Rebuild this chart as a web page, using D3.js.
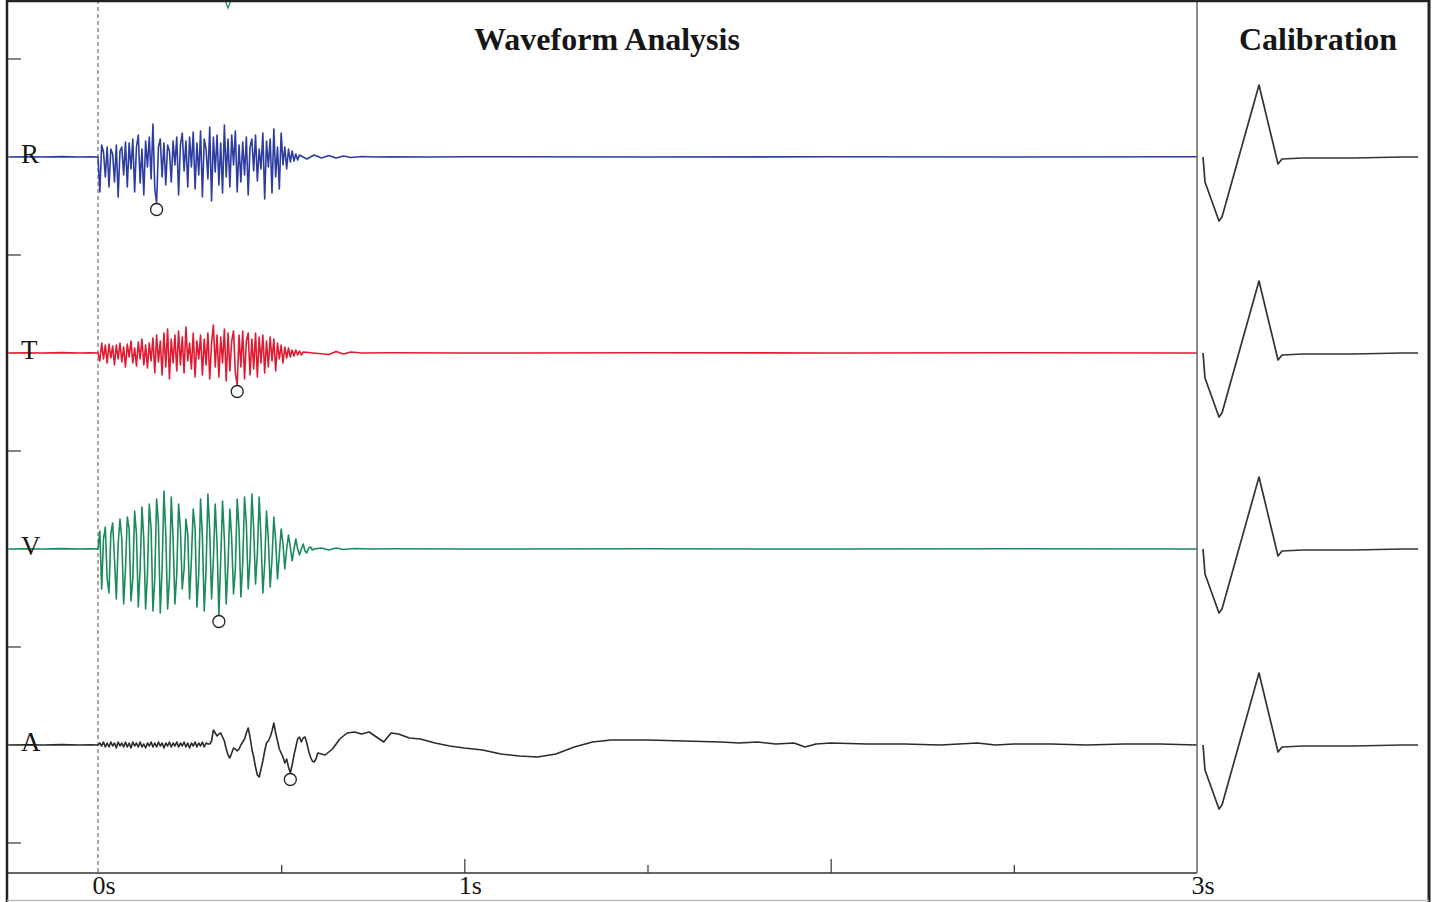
<!DOCTYPE html>
<html>
<head>
<meta charset="utf-8">
<script src="https://cdn.jsdelivr.net/npm/d3@7"></script>
<style>
  html, body { margin: 0; padding: 0; background: #fff; overflow: hidden; }
  text { font-family: "Liberation Serif", "DejaVu Serif", serif; fill: #161616; }
</style>
</head>
<body>
<svg id="chart" width="1433" height="902"></svg>
<script>
// ---- channels ----
const channels = ["R", "T", "V", "A"];
const channelColors = ["#2c3c9f", "#e11a31", "#1b8a5c", "#2b2b2b"];

// ---- event bursts, one sample every 5 ms from t = 0 s ----
const sampleStep = 0.005;
const rBurst = [0,-35,12,5,-20,10,-30,8,3,-25, 12,-40,6,10,-18,15,-30,14,-12,18,
  -35,10,22,-26,8,-38,16,-10,20,-22, 33,-32,-46,10,18,-20,14,-28,12,6,
  -25,16,-8,20,-38,12,24,-14,16,-30, 20,-10,25,-32,14,-18,26,-40,18,8,
  -22,30,-44,20,-15,22,-28,14,-36,32, -20,18,-30,22,-8,26,-35,12,-25,15,
  -18,20,-38,10,18,-14,22,-24,8,-12, 24,-42,16,-10,18,-36,28,-20,10,-32,
  24,-8,10,-12,8,-5,6,-4,3,-3, 2];
const tBurst = [0,-8,10,-6,8,-10,9,-5,7,-12, 8,-6,10,-9,6,-14,9,-4,12,-10,
  5,-13,11,-6,14,-12,8,-15,10,-8, 15,-20,18,-9,12,-22,20,-14,24,-26,
  14,-10,18,-18,22,-12,16,-20,26,-8, 10,-16,20,-24,12,-6,18,-22,14,-12,
  20,-26,10,28,-14,18,-24,16,-10,24, -28,20,-18,12,22,-20,-32,18,-14,22,
  -26,12,20,-22,14,-16,20,-24,16,-10, 18,-20,12,-14,16,-8,14,-18,10,-6,
  8,-10,6,-5,5,-4,3,-3,3,-2, 2,-2,1];
const vBurst = [0,18,-40,10,22,-30,-44,15,26,-10, -50,5,30,10,-55,-20,32,20,-52,-30,
  38,15,-58,-20,42,10,-60,-25,45,20, -62,-30,50,25,-64,-20,58,15,-60,-30,
  52,10,-55,-25,45,20,-40,-20,30,15, -50,-10,40,20,-58,-25,50,12,-62,-20,
  55,18,-50,-10,45,5,-66,-10,48,10, -55,-15,40,10,-45,-20,50,20,-48,-15,
  52,25,-40,-10,55,20,-35,-5,52,10, -44,-15,38,10,-38,-10,32,8,-30,-5,
  20,5,-20,0,14,2,-12,0,10,0, -6,0,5,-2,-4,1,2,-1,0];
const aBurst = [0,2,-1,3,-2,2,-2,3,-1,2, -3,3,-1,2,-2,3,-2,2,-3,3,
  -1,2,-2,3,-2,1,-3,2,-1,3, -2,2,-2,3,-1,2,-3,2,-1,3,
  -2,2,-1,3,-2,2,-1,3,-2,2, -3,2,-1,3,-2,2,-1,3,-2,2,
  1,1,4,15,12,9,11,12,8,4, -4,-10,-13,-8,-3,-4,-6,-4,0,3,
  6,12,17,8,-4,-12,-22,-30,-32,-24, -16,-6,2,4,8,14,22,12,4,-4,
  -8,-12,-18,-14,-22,-28,-20,-10,-2,6, 8,3,7,8,2,-6,-12,-16,-17,-14, -8];

// ---- quiet lead-in before t = 0 ----
const preTime = [-0.245, -0.2, -0.15, -0.1, -0.05, -0.02];
const preValue = [0, 0.3, 0, 0.4, 0, 0.3];

// ---- coda after each burst ----
const rTailTime = [0.57,0.59,0.61,0.63,0.65,0.67,0.69,0.72,0.76,0.8,0.9,1.0,1.5,2.0,2.5,3.0];
const rTailValue = [-2,2,-1,1.5,-1,1,-0.5,0.5,0,0.3,0,0.3,0,0.2,0,0.3];
const tTailTime = [0.63,0.65,0.67,0.69,0.72,0.8,1.0,1.5,2.0,2.5,3.0];
const tTailValue = [-1.5,1.5,-1,1,0,0.3,0,0.3,0,0.2,0];
const vTailTime = [0.61,0.63,0.65,0.67,0.70,0.75,0.8,1.0,1.5,2.0,2.5,3.0];
const vTailValue = [1,-1,1,-0.5,0.5,0,0.3,0,0.2,0,0.2,0];
const aTailTime = [0.62,0.64,0.66,0.68,0.70,0.72,0.74,0.76,0.78,0.80,0.82,0.85,0.88,0.92,0.96,
  1.00,1.05,1.10,1.15,1.20,1.25,1.30,1.35,1.40,1.50,1.60,1.70,1.75,1.80,1.85,1.90,1.93,1.96,
  2.00,2.10,2.20,2.30,2.40,2.45,2.50,2.60,2.70,2.80,2.90,3.00];
const aTailValue = [-10,-4,6,12,13,11,13,8,3,12,11,7,6,2,-1,
  -3,-5,-9,-11,-12,-9,-2,3,5,5,4,3,2,3,1,2,-2,1,
  2,1,1,0,2,0,1,1,0,1,1,0];

// ---- picked peak times (circled) ----
const pickTimes = [0.16, 0.38, 0.33, 0.525];
const triggerTime = 0.355;

// ---- calibration pulse ----
const calTime = [0, 0.002, 0.016, 0.019, 0.056, 0.075, 0.079, 0.1, 0.15, 0.2, 0.215];
const calValue = [0, -25, -64, -60, 72, -7, -2, -1, -1, 0, 0];

// ---- time axis ----
const tickValues = [0, 0.5, 1, 1.5, 2, 2.5, 3];
const tickLabels = ["0s", "", "1s", "", "", "", "3s"];
const majorTicks = [1, 2];

const bursts = [rBurst, tBurst, vBurst, aBurst];
const tailTimes = [rTailTime, tTailTime, vTailTime, aTailTime];
const tailValues = [rTailValue, tTailValue, vTailValue, aTailValue];

// ---- layout ----
const W = 1433, H = 902;
const frameL = 7, divX = 1197, frameR = 1429, axisY = 873;
const svg = d3.select("#chart");

const x = d3.scaleLinear().domain([0, 3]).range([98, divX]);
const band = d3.scaleBand().domain(channels).range([59, 843]).paddingInner(0).paddingOuter(0);
const amp = d3.scaleLinear().domain([-98, 98]).range([98, -98]);
const calX = d3.scaleLinear().domain([0, 0.215]).range([1203, 1418]);

function seriesFor(i) {
  const pts = preTime.map((t, k) => [t, preValue[k]]);
  bursts[i].forEach((v, k) => pts.push([k * sampleStep, v]));
  tailTimes[i].forEach((t, k) => pts.push([t, tailValues[i][k]]));
  return pts;
}

// clip for the waveform panel
svg.append("defs").append("clipPath").attr("id", "panel")
  .append("rect").attr("x", frameL + 1).attr("y", 0).attr("width", divX - frameL - 1).attr("height", axisY);

// t = 0 marker
svg.append("line")
  .attr("x1", x(0)).attr("x2", x(0)).attr("y1", 0).attr("y2", axisY)
  .attr("stroke", "#555").attr("stroke-width", 1).attr("stroke-dasharray", "4,3");

// channel boundary ticks on the left edge
svg.append("g").selectAll("line")
  .data(channels.concat(["end"]))
  .join("line")
  .attr("x1", frameL).attr("x2", frameL + 14)
  .attr("y1", (d, i) => 59 + i * band.bandwidth())
  .attr("y2", (d, i) => 59 + i * band.bandwidth())
  .attr("stroke", "#333").attr("stroke-width", 1.2);

// waveforms
const traces = svg.append("g").attr("clip-path", "url(#panel)");
channels.forEach((c, i) => {
  const mid = band(c) + band.bandwidth() / 2;
  const line = d3.line().x(d => x(d[0])).y(d => mid + amp(d[1]));
  traces.append("path")
    .datum(seriesFor(i))
    .attr("d", line)
    .attr("fill", "none")
    .attr("stroke", channelColors[i])
    .attr("stroke-width", 1.6)
    .attr("stroke-linejoin", "round");

  // circled pick
  const k = Math.round(pickTimes[i] / sampleStep);
  const v = bursts[i][k];
  traces.append("circle")
    .attr("cx", x(k * sampleStep)).attr("cy", mid + amp(v) + 6.5)
    .attr("r", 6).attr("fill", "none").attr("stroke", "#222").attr("stroke-width", 1.3);
});

// trigger mark at the top edge
svg.append("path")
  .attr("d", d3.line()([[x(triggerTime) - 3, 0], [x(triggerTime), 8], [x(triggerTime) + 3, 0]]))
  .attr("fill", "none").attr("stroke", channelColors[2]).attr("stroke-width", 1.2);

// channel labels
svg.append("g").selectAll("text")
  .data(channels)
  .join("text")
  .attr("x", 21)
  .attr("y", d => band(d) + band.bandwidth() / 2 + 6)
  .attr("font-size", 27)
  .text(d => d);

// calibration pulses
channels.forEach((c, i) => {
  const mid = band(c) + band.bandwidth() / 2;
  svg.append("path")
    .datum(calTime.map((t, k) => [t, calValue[k]]))
    .attr("d", d3.line().x(d => calX(d[0])).y(d => mid + amp(d[1])))
    .attr("fill", "none").attr("stroke", "#333").attr("stroke-width", 1.7)
    .attr("stroke-linejoin", "round");
});

// time axis
const axis = d3.axisBottom(x)
  .tickValues(tickValues)
  .tickFormat((d, i) => tickLabels[i])
  .tickSizeOuter(0);
const ax = svg.append("g").attr("transform", `translate(0,${axisY})`).call(axis);
ax.select(".domain").remove();
ax.selectAll(".tick line")
  .attr("y2", d => (d === 0 || d === 3) ? 0 : (majorTicks.includes(d) ? -14 : -8))
  .attr("stroke", "#333").attr("stroke-width", 1.2);
ax.selectAll(".tick text")
  .attr("y", 21).attr("dy", 0).attr("x", -6)
  .attr("text-anchor", "start")
  .attr("font-size", 26)
  .attr("font-family", "Liberation Serif, serif")
  .attr("fill", "#161616");

svg.append("line").attr("x1", frameL).attr("x2", divX).attr("y1", axisY).attr("y2", axisY)
  .attr("stroke", "#333").attr("stroke-width", 1.5);

// panel divider and frame
svg.append("line").attr("x1", divX).attr("x2", divX).attr("y1", 0).attr("y2", axisY)
  .attr("stroke", "#666").attr("stroke-width", 1.5);
svg.append("line").attr("x1", frameL).attr("x2", frameR).attr("y1", 1).attr("y2", 1)
  .attr("stroke", "#222").attr("stroke-width", 2.5);
svg.append("line").attr("x1", frameL).attr("x2", frameL).attr("y1", 0).attr("y2", H)
  .attr("stroke", "#222").attr("stroke-width", 2.5);
svg.append("line").attr("x1", frameR).attr("x2", frameR).attr("y1", 0).attr("y2", H)
  .attr("stroke", "#222").attr("stroke-width", 3);
svg.append("line").attr("x1", frameL).attr("x2", frameR).attr("y1", H - 1.5).attr("y2", H - 1.5)
  .attr("stroke", "#bbb").attr("stroke-width", 1.5);

// titles
svg.append("text").attr("x", (frameL + divX) / 2 + 5).attr("y", 50)
  .attr("text-anchor", "middle").attr("font-size", 32).attr("font-weight", "bold")
  .text("Waveform Analysis");
svg.append("text").attr("x", (divX + frameR) / 2 + 5).attr("y", 50)
  .attr("text-anchor", "middle").attr("font-size", 32).attr("font-weight", "bold")
  .text("Calibration");
</script>
</body>
</html>
